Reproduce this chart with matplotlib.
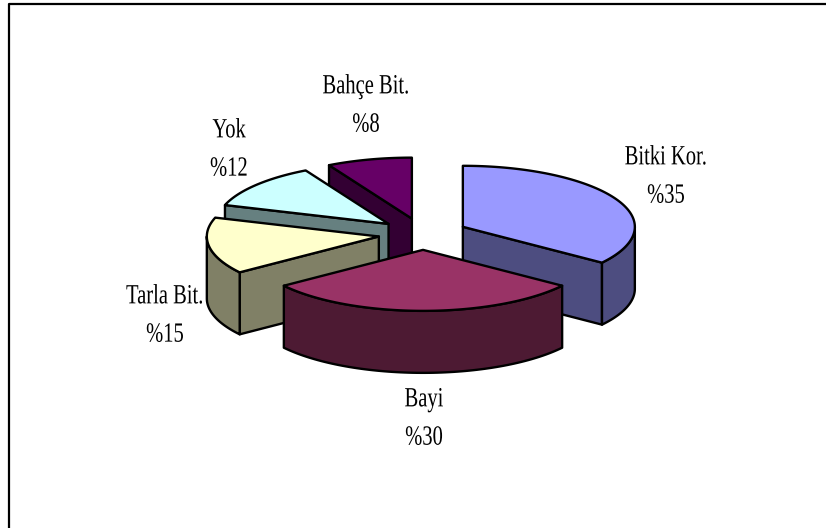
import numpy as np
import matplotlib
matplotlib.use("Agg")
import matplotlib.pyplot as plt
from matplotlib.patches import Polygon
from matplotlib.patheffects import AbstractPathEffect
from matplotlib.transforms import Affine2D

labels = ["Bitki Kor.", "Bayi", "Tarla Bit.", "Yok", "Bahçe Bit."]
values = [35, 30, 15, 12, 8]
top_colors = ["#9999FF", "#993366", "#FFFFCC", "#CCFFFF", "#660066"]
side_colors = ["#4D4D80", "#4D1A33", "#808066", "#668080", "#330033"]
label_pos = [(666, 177), (424, 419), (165, 316), (229, 150), (366, 106)]

# pie geometry in pixels
cx, cy = 423, 234
rx, ry = 172, 61
depth = 62
explode = 0.26
draw_order = [4, 3, 2, 0, 1]


class Condensed(AbstractPathEffect):
    # squeeze each text line sideways around its own centre
    def __init__(self, sx):
        super().__init__()
        self.sx = sx

    def draw_path(self, renderer, gc, tpath, affine, rgbFace=None):
        ext = tpath.get_extents()
        c = (ext.x0 + ext.x1) / 2
        squeeze = Affine2D().translate(-c, 0).scale(self.sx, 1).translate(c, 0)
        renderer.draw_path(gc, tpath, squeeze + affine, rgbFace)


def rim(ax0, ay0, a):
    a = np.radians(a)
    return np.column_stack([ax0 + rx * np.sin(a), ay0 - ry * np.cos(a)])


def add_poly(ax, pts, color):
    ax.add_patch(Polygon(pts, closed=True, facecolor=color, edgecolor="black",
                         linewidth=1.7, joinstyle="round"))


def draw_slice(ax, start, end, top, side):
    mid = np.radians((start + end) / 2)
    ax0 = cx + explode * rx * np.sin(mid)
    ay0 = cy - explode * ry * np.cos(mid)
    apex = np.array([[ax0, ay0]])
    down = np.array([0, depth])

    # radial walls facing the viewer
    for a, sign in ((start, -1), (end, 1)):
        if sign * np.sin(np.radians(a)) > 1e-6:
            edge = np.vstack([apex, rim(ax0, ay0, [a])])
            add_poly(ax, np.vstack([edge, edge[::-1] + down]), side)

    # outer side, only the front half of the ellipse shows
    a0, a1 = max(start, 90), min(end, 270)
    if a1 > a0:
        arc = rim(ax0, ay0, np.linspace(a0, a1, 80))
        add_poly(ax, np.vstack([arc, arc[::-1] + down]), side)

    arc = rim(ax0, ay0, np.linspace(start, end, 120))
    add_poly(ax, np.vstack([apex, arc]), top)


def main():
    plt.rcParams["font.family"] = ["Liberation Serif", "DejaVu Serif"]
    fig = plt.figure(figsize=(8.26, 5.28), dpi=100)
    ax = fig.add_axes([0, 0, 1, 1])
    ax.set_xlim(0, 826)
    ax.set_ylim(528, 0)
    ax.axis("off")

    # frame, only top and left are inside the picture
    ax.plot([8.5, 8.5, 826], [528, 4, 4], color="black", lw=1.6)

    edges = np.concatenate([[0], np.cumsum(values)]) * 360 / sum(values)
    for i in draw_order:
        draw_slice(ax, edges[i], edges[i + 1], top_colors[i], side_colors[i])

    for name, v, (x, y) in zip(labels, values, label_pos):
        ax.text(x, y, f"{name}\n%{v}", ha="center", va="center", fontsize=20,
                linespacing=1.7, color="black",
                path_effects=[Condensed(0.74)])

    fig.savefig("out.png", dpi=100)


if __name__ == "__main__":
    main()
